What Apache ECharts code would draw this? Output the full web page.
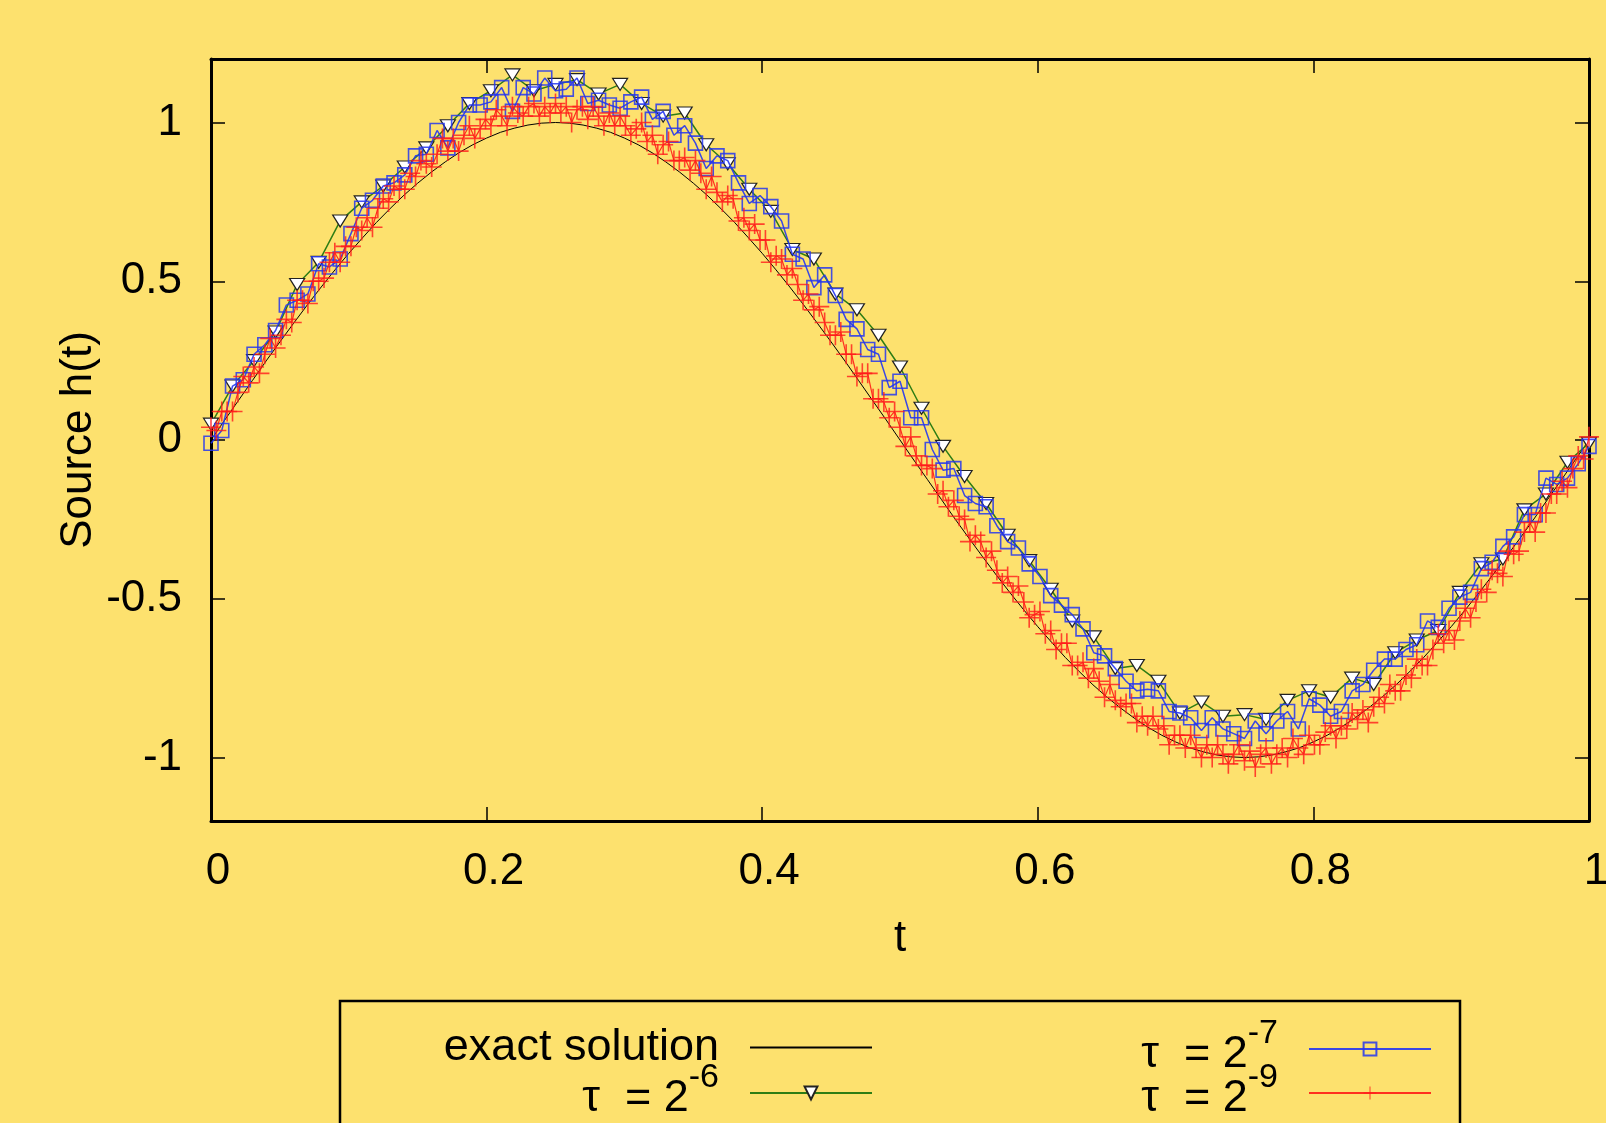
<!DOCTYPE html>
<html>
<head>
<meta charset="utf-8">
<script src="https://cdn.jsdelivr.net/npm/echarts@6/dist/echarts.min.js"></script>
<style>
  html, body { margin: 0; padding: 0; background: #fde16e; }
  #el { width: 1606px; height: 1123px; }
</style>
</head>
<body>
<div id="el"></div>
<script>
// exact solution, sampled every 0.01
const exactStep = 0.01
const exactVals = [
  0.000, 0.063, 0.125, 0.187, 0.249, 0.309, 0.368, 0.426, 0.482, 0.536,
  0.588, 0.637, 0.685, 0.729, 0.771, 0.809, 0.844, 0.876, 0.905, 0.930,
  0.951, 0.969, 0.982, 0.992, 0.998, 1.000, 0.998, 0.992, 0.982, 0.969,
  0.951, 0.930, 0.905, 0.876, 0.844, 0.809, 0.771, 0.729, 0.685, 0.637,
  0.588, 0.536, 0.482, 0.426, 0.368, 0.309, 0.249, 0.187, 0.125, 0.063,
  0.000, -0.063, -0.125, -0.187, -0.249, -0.309, -0.368, -0.426, -0.482, -0.536,
  -0.588, -0.637, -0.685, -0.729, -0.771, -0.809, -0.844, -0.876, -0.905, -0.930,
  -0.951, -0.969, -0.982, -0.992, -0.998, -1.000, -0.998, -0.992, -0.982, -0.969,
  -0.951, -0.930, -0.905, -0.876, -0.844, -0.809, -0.771, -0.729, -0.685, -0.637,
  -0.588, -0.536, -0.482, -0.426, -0.368, -0.309, -0.249, -0.187, -0.125, -0.063,
  0.000
]

// tau = 2^-6
const step6 = 1 / 64
const vals6 = [
  0.05, 0.17, 0.25, 0.34, 0.49, 0.56, 0.69, 0.75, 0.80, 0.86,
  0.92, 0.99, 1.06, 1.10, 1.15, 1.10, 1.12, 1.135, 1.09, 1.12,
  1.06, 1.02, 1.03, 0.93, 0.87, 0.79, 0.72, 0.60, 0.57, 0.46,
  0.41, 0.33, 0.23, 0.10, -0.02, -0.115, -0.20, -0.30, -0.38, -0.47,
  -0.57, -0.62, -0.72, -0.71, -0.76, -0.86, -0.825, -0.87, -0.865, -0.88,
  -0.82, -0.79, -0.81, -0.75, -0.77, -0.67, -0.63, -0.60, -0.48, -0.39,
  -0.375, -0.22, -0.17, -0.07, -0.01
]

// tau = 2^-7
const step7 = 1 / 128
const vals7 = [
  -0.01, 0.03, 0.17, 0.19, 0.27, 0.30, 0.345, 0.425, 0.44, 0.46,
  0.555, 0.545, 0.57, 0.65, 0.73, 0.755, 0.80, 0.81, 0.835, 0.895,
  0.90, 0.975, 0.92, 1.00, 1.055, 1.055, 1.065, 1.11, 1.035, 1.11,
  1.09, 1.14, 1.10, 1.105, 1.14, 1.06, 1.07, 1.055, 1.045, 1.065,
  1.08, 1.01, 1.035, 0.96, 0.99, 0.935, 0.855, 0.895, 0.88, 0.81,
  0.745, 0.77, 0.735, 0.69, 0.585, 0.57, 0.48, 0.52, 0.455, 0.38,
  0.35, 0.285, 0.27, 0.165, 0.185, 0.07, 0.07, -0.03, -0.095, -0.09,
  -0.175, -0.20, -0.21, -0.27, -0.32, -0.34, -0.39, -0.43, -0.49, -0.52,
  -0.55, -0.595, -0.67, -0.68, -0.72, -0.76, -0.79, -0.785, -0.79, -0.855,
  -0.86, -0.875, -0.915, -0.875, -0.91, -0.925, -0.94, -0.885, -0.925, -0.885,
  -0.855, -0.91, -0.815, -0.835, -0.87, -0.855, -0.79, -0.77, -0.725, -0.69,
  -0.69, -0.66, -0.645, -0.57, -0.59, -0.53, -0.495, -0.48, -0.405, -0.385,
  -0.335, -0.305, -0.235, -0.235, -0.12, -0.14, -0.12, -0.075, -0.02
]

// tau = 2^-9 (read every second point)
const step9 = 1 / 256
const vals9 = [
  0.04, 0.03, 0.09, 0.09, 0.09, 0.15, 0.20, 0.18, 0.23, 0.21,
  0.27, 0.32, 0.29, 0.33, 0.38, 0.37, 0.44, 0.44, 0.43, 0.50,
  0.50, 0.51, 0.56, 0.59, 0.56, 0.61, 0.61, 0.67, 0.66, 0.70,
  0.67, 0.73, 0.76, 0.75, 0.80, 0.79, 0.79, 0.84, 0.83, 0.88,
  0.87, 0.86, 0.90, 0.95, 0.91, 0.95, 0.91, 0.96, 0.99, 0.95,
  0.98, 1.01, 0.99, 1.04, 1.02, 0.99, 1.05, 1.03, 1.02, 1.05,
  1.06, 1.02, 1.05, 1.03, 1.06,
  1.03, 1.05, 1.00, 1.04, 1.05,
  1.01, 1.05, 1.02, 0.99, 1.03, 0.99, 1.02, 0.99, 0.96, 0.98,
  1.00, 0.94, 0.96, 0.90, 0.93, 0.94, 0.88, 0.88, 0.89, 0.85,
  0.88, 0.84, 0.79, 0.83, 0.78, 0.75, 0.77, 0.76, 0.69, 0.70,
  0.66, 0.68, 0.63, 0.63, 0.56, 0.58, 0.57, 0.52, 0.54, 0.49,
  0.44, 0.46, 0.41, 0.42, 0.37, 0.33, 0.33, 0.34, 0.27, 0.27,
  0.20, 0.21, 0.21, 0.13, 0.13, 0.12, 0.07, 0.09, 0.04,
  -0.02,
  0.01, -0.05, -0.08, -0.08, -0.09, -0.17, -0.16, -0.21, -0.19, -0.24,
  -0.25, -0.32, -0.30, -0.32, -0.37, -0.35, -0.41, -0.45, -0.43, -0.48,
  -0.46, -0.51, -0.56, -0.55, -0.54, -0.61, -0.60, -0.66, -0.64, -0.64,
  -0.71, -0.71, -0.70, -0.75, -0.72, -0.76, -0.81, -0.77, -0.82, -0.84,
  -0.83, -0.83, -0.89, -0.87, -0.90, -0.87, -0.91, -0.90, -0.96, -0.93,
  -0.93, -0.97, -0.93, -0.97, -1.00, -0.96, -1.00, -0.96, -0.99, -1.02,
  -0.99, -0.96, -1.01,
  -0.98, -1.03, -0.99, -0.97, -1.02, -0.99, -0.97,
  -1.00, -0.94, -0.97, -0.99, -0.93, -0.96, -0.96, -0.92, -0.90, -0.94,
  -0.90, -0.91, -0.86, -0.88, -0.85, -0.89, -0.84, -0.81, -0.83, -0.77,
  -0.79, -0.79, -0.74, -0.75, -0.69, -0.71, -0.71, -0.66, -0.61, -0.64,
  -0.60, -0.63, -0.57, -0.53, -0.56, -0.51, -0.47, -0.48, -0.41, -0.42,
  -0.43, -0.35, -0.36, -0.35, -0.29, -0.26, -0.29, -0.23, -0.23, -0.17,
  -0.17, -0.13, -0.15, -0.09, -0.05, -0.06, 0.01
]

const xTicks = [0, 0.2, 0.4, 0.6, 0.8, 1]
const yTicks = [-1, -0.5, 0, 0.5, 1]

const FONT = 'Liberation Sans, Arial, Helvetica, sans-serif'

// pair each value with its time
let pairs = (vals, step) => vals.map((v, i) => [i * step, v])

const triDown = 'path://M0,0 L10,0 L5,8 Z'
const square = 'path://M0,0 L10,0 L10,10 L0,10 Z'
const plus = 'path://M4.6,0 L5.4,0 L5.4,4.6 L10,4.6 L10,5.4 L5.4,5.4 L5.4,10 L4.6,10 L4.6,5.4 L0,5.4 L0,4.6 L4.6,4.6 Z'

let axisLine = { show: true, onZero: false, lineStyle: { color: '#000', width: 3 } }
let tickIn = { inside: true, length: 14, lineStyle: { color: '#000', width: 1.5 } }

let rich = {
  e: { fontSize: 45, fontFamily: FONT, color: '#000', padding: [0, 26, 0, 0] },
  a: { fontSize: 45, fontFamily: FONT, color: '#000', padding: [12, 0, 0, 0] },
  s: { fontSize: 34, fontFamily: FONT, color: '#000', padding: [0, 26, 30, 0] }
}
let labelOf = {
  'exact solution': '{e|exact solution}',
  'τ = 2^-6': '{a|τ  = 2}{s|-6}',
  'τ = 2^-7': '{a|τ  = 2}{s|-7}',
  'τ = 2^-9': '{a|τ  = 2}{s|-9}'
}
let legendFor = (name, right, top) => ({
  data: [name],
  orient: 'vertical',
  align: 'right',
  right: right,
  top: top,
  padding: 0,
  itemWidth: 122,
  itemHeight: 16,
  selectedMode: false,
  formatter: (n) => labelOf[n],
  textStyle: { rich: rich }
})

let chart = () => {
  let mychart = echarts.init(document.getElementById('el'), null, { renderer: 'canvas' })
  let option = {
    backgroundColor: '#fde16e',
    animation: false,
    grid: { left: 211, right: 17, top: 59, height: 762, outerBoundsMode: 'none', containLabel: false },
    xAxis: [
      {
        type: 'value', min: 0, max: 1, interval: 0.2, position: 'bottom',
        axisLine: axisLine, axisTick: tickIn,
        axisLabel: { fontSize: 44, color: '#000', fontFamily: FONT, margin: 29, padding: [0, 0, 0, 14], customValues: xTicks },
        splitLine: { show: false },
        name: 't', nameLocation: 'middle', nameGap: 96, nameMoveOverlap: false,
        nameTextStyle: { fontSize: 44, color: '#000', fontFamily: FONT }
      },
      {
        type: 'value', min: 0, max: 1, interval: 0.2, position: 'top',
        axisLine: axisLine, axisTick: tickIn,
        axisLabel: { show: false }, splitLine: { show: false }
      }
    ],
    yAxis: [
      {
        type: 'value', min: -1.2, max: 1.2, position: 'left',
        axisLine: axisLine,
        axisTick: Object.assign({ customValues: yTicks }, tickIn),
        axisLabel: { fontSize: 44, color: '#000', fontFamily: FONT, margin: 29, customValues: yTicks },
        splitLine: { show: false },
        name: 'Source h(t)', nameLocation: 'middle', nameGap: 110, nameMoveOverlap: false,
        nameTextStyle: { fontSize: 44, color: '#000', fontFamily: FONT }
      },
      {
        type: 'value', min: -1.2, max: 1.2, position: 'right',
        axisLine: axisLine,
        axisTick: Object.assign({ customValues: yTicks }, tickIn),
        axisLabel: { show: false }, splitLine: { show: false }
      }
    ],
    legend: [
      legendFor('exact solution', 733, 1025),
      legendFor('τ = 2^-6', 733, 1061),
      legendFor('τ = 2^-7', 174, 1017),
      legendFor('τ = 2^-9', 174, 1061)
    ],
    graphic: [{
      type: 'rect',
      shape: { x: 340, y: 1001, width: 1120, height: 200 },
      style: { fill: 'none', stroke: '#000', lineWidth: 2.5 },
      silent: true
    }],
    series: [
      {
        name: 'exact solution', type: 'line', data: pairs(exactVals, exactStep),
        symbol: 'none', lineStyle: { color: '#000', width: 1 },
        itemStyle: { color: 'rgba(0,0,0,0)', opacity: 0 }, z: 2
      },
      {
        name: 'τ = 2^-6', type: 'line', data: pairs(vals6, step6),
        symbol: triDown, symbolSize: [15, 12], showAllSymbol: true,
        lineStyle: { color: '#2e7d14', width: 1.5 },
        itemStyle: { color: '#ffffff', borderColor: '#222', borderWidth: 1.2 }, z: 3
      },
      {
        name: 'τ = 2^-7', type: 'line', data: pairs(vals7, step7),
        symbol: square, symbolSize: 14, showAllSymbol: true,
        lineStyle: { color: '#2536f0', width: 1.5, opacity: 0.9 },
        itemStyle: { color: 'rgba(0,0,0,0)', borderColor: '#2536f0', borderWidth: 1.6, opacity: 0.85 }, z: 4
      },
      {
        name: 'τ = 2^-9', type: 'line', data: pairs(vals9, step9),
        symbol: plus, symbolSize: 20, showAllSymbol: true,
        lineStyle: { color: '#ff1010', width: 1.2, opacity: 0.85 },
        itemStyle: { color: '#ff1a1a', opacity: 0.8 }, z: 5
      }
    ]
  }
  option && mychart.setOption(option)
}

chart()
</script>
</body>
</html>
